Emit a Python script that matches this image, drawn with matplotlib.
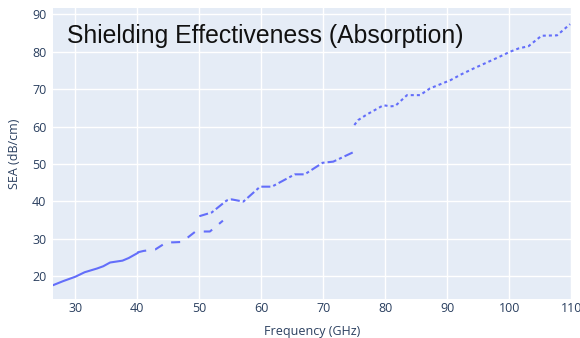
import matplotlib
matplotlib.use("Agg")
import matplotlib.pyplot as plt

# K band (solid)
f_k = [26.5, 28, 30, 31.5, 33.5, 34.5, 35.6, 37.6, 38.6, 40]
sea_k = [17.6, 18.6, 19.8, 21.0, 22.0, 22.6, 23.6, 24.1, 24.8, 26.1]

# Q band (dash)
f_q = [40, 41, 42.9, 44.7, 45.8, 47.2, 49.3, 50.2, 51.7, 53.8]
sea_q = [26.3, 26.7, 27.1, 29.0, 29.0, 29.1, 31.8, 31.9, 31.9, 34.8]

# V band (dashdot)
f_v = [50, 52, 54.4, 55.2, 57.1, 59.8, 61.7, 65.4, 67.0, 69.9, 71.6, 74.8]
sea_v = [36.0, 37.0, 40.2, 40.5, 39.9, 43.9, 43.9, 47.2, 47.2, 50.3, 50.6, 53.1]

# W band (dot)
f_w = [75, 75.6, 77, 78.3, 79.7, 80.8, 81.6, 83.5, 85.6, 87.2, 90.5, 92.3,
       94.2, 96.2, 98.2, 100.1, 101.5, 103.1, 105.2, 107.7, 109.8]
sea_w = [60.4, 61.7, 63.2, 64.4, 65.7, 65.4, 65.5, 68.4, 68.4, 70.2, 72.4, 74.0,
         75.5, 77.0, 78.5, 80.0, 80.9, 81.5, 84.3, 84.4, 87.4]

plt.rcParams['font.family'] = ['Open Sans', 'DejaVu Sans']
plt.rcParams['lines.scale_dashes'] = False

fig = plt.figure(figsize=(5.8, 3.38), dpi=100)
ax = fig.add_axes([0.092, 0.115, 0.893, 0.86])
ax.set_facecolor('#e5ecf6')

c = '#636efa'
lw = 1.5
ax.plot(f_k, sea_k, color=c, lw=lw)
ax.plot(f_q, sea_q, color=c, lw=lw, linestyle=(0, (6.5, 6.5)))
ax.plot(f_v, sea_v, color=c, lw=lw, linestyle=(0, (6.5, 2.2, 2.2, 2.2)))
ax.plot(f_w, sea_w, color=c, lw=lw, linestyle=(0, (2.2, 2.2)))

ax.set_xlim(26.45, 110)
ax.set_ylim(13.8, 91.6)
ax.set_xticks(range(30, 111, 10))
ax.set_yticks(range(20, 91, 10))
ax.grid(True, color='white', lw=1)
ax.set_axisbelow(True)
for s in ax.spines.values():
    s.set_visible(False)
ax.tick_params(axis='x', length=0, labelsize=9, colors='#2a3f5f', pad=2)
ax.tick_params(axis='y', length=0, labelsize=9, colors='#2a3f5f', pad=5)

ax.set_xlabel('Frequency (GHz)', fontsize=9, color='#2a3f5f', labelpad=7)
ax.set_ylabel('SEA (dB/cm)', fontsize=9, color='#2a3f5f', labelpad=8)

ax.text(0.026, 0.905, 'Shielding Effectiveness (Absorption)', transform=ax.transAxes,
        fontsize=17.8, family=['Liberation Sans', 'DejaVu Sans'], color='#111111',
        va='center', ha='left')

fig.savefig('out.png', dpi=100)
